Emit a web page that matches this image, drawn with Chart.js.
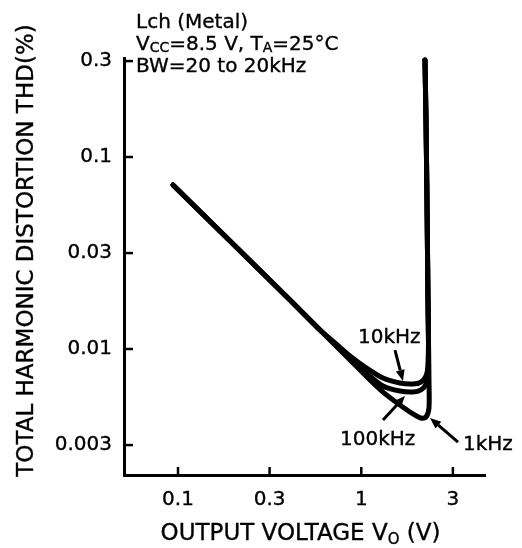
<!DOCTYPE html>
<html><head><meta charset="utf-8">
<script src="https://cdn.jsdelivr.net/npm/chart.js@4/dist/chart.umd.min.js"></script>
<style>html,body{margin:0;padding:0;background:#fff}canvas{display:block}</style>
</head><body>
<canvas id="c" width="522" height="548"></canvas>
<script>
// Axis ticks (datasheet spaces 0.1/0.3/1/3 evenly, i.e. half-decades)
const xTickValues = [0.1, 0.316, 1, 3.16];
const xTickLabels = ['0.1', '0.3', '1', '3'];
const yTickValues = [0.00316, 0.01, 0.0316, 0.1, 0.316];
const yTickLabels = ['0.003', '0.01', '0.03', '0.1', '0.3'];

// Shared low-level part of all curves (Vo in V, THD in %)
const commonVo  = [0.0939, 0.1922, 0.4083, 0.5953];
const commonThd = [0.0715, 0.0365, 0.0180, 0.01256];

// 10 kHz
const vo10k  = [0.7186, 0.8677, 1.0476, 1.3136, 1.6259, 1.9150, 2.1170, 2.2542, 2.3116, 2.3260, 2.3116, 2.2823, 2.2542, 2.2259];
const thd10k = [0.01075, 0.00919, 0.00806, 0.00706, 0.00665, 0.00657, 0.00673, 0.00724, 0.00825, 0.01114, 0.01799, 0.0597, 0.1559, 0.3200];
// 100 kHz
const vo100k  = [0.7186, 0.8677, 1.0476, 1.3136, 1.6259, 1.9150, 2.1170, 2.2542, 2.3116, 2.3260, 2.3116, 2.2823, 2.2542, 2.2259];
const thd100k = [0.01062, 0.00898, 0.00759, 0.00642, 0.00604, 0.00597, 0.00612, 0.00657, 0.00759, 0.01114, 0.01799, 0.0597, 0.1559, 0.3200];
// 1 kHz
const vo1k  = [0.7186, 0.8677, 1.0476, 1.3136, 1.6259, 1.9150, 2.1170, 2.2542, 2.3405, 2.3405, 2.3260, 2.3116, 2.2823, 2.2542, 2.2259];
const thd1k = [0.01049, 0.00877, 0.00732, 0.00597, 0.00511, 0.00459, 0.00437, 0.00442, 0.00493, 0.00690, 0.01114, 0.01799, 0.0597, 0.1559, 0.3200];

const seriesNames = ['10kHz', '100kHz', '1kHz'];

// Curve labels with arrows, in data units (Vo, THD)
const labelPos   = [[0.959, 0.01075], [0.7652, 0.003162], [3.587, 0.002979]];
const arrowFrom  = [[1.527, 0.00988], [1.3136, 0.004267], [3.37, 0.003278]];
const arrowTo    = [[1.688, 0.00681], [1.731, 0.00569], [2.371, 0.004371]];

function pts(vs, ts) { return vs.map((v, i) => ({ x: v, y: ts[i] })); }
function curve(vs, ts) { return pts(commonVo, commonThd).concat(pts(vs, ts)); }

const FONT = "'DejaVu Sans', sans-serif";
const STROKE = 0.35;

function txt(ctx, s, x, y) {
  ctx.fillText(s, x, y);
  ctx.lineWidth = STROKE; ctx.strokeText(s, x, y);
}

function drawRich(ctx, parts, x, y, align) {
  let w = 0;
  parts.forEach(p => { ctx.font = p.size + 'px ' + FONT; w += ctx.measureText(p.t).width; });
  let cx = align === 'center' ? x - w / 2 : x;
  ctx.textAlign = 'left'; ctx.textBaseline = 'alphabetic';
  parts.forEach(p => {
    ctx.font = p.size + 'px ' + FONT;
    txt(ctx, p.t, cx, y + (p.dy || 0));
    cx += ctx.measureText(p.t).width;
  });
}

const overlay = {
  id: 'overlay',
  beforeDraw(chart) {
    const ctx = chart.ctx;
    ctx.save(); ctx.fillStyle = '#fff'; ctx.fillRect(0, 0, chart.width, chart.height); ctx.restore();
  },
  afterDraw(chart) {
    const ctx = chart.ctx, xs = chart.scales.x, ys = chart.scales.y, ca = chart.chartArea;
    ctx.save();
    ctx.fillStyle = '#000'; ctx.strokeStyle = '#000';
    // inward tick marks
    ctx.lineWidth = 2.5;
    xTickValues.forEach(v => { const px = xs.getPixelForValue(v); ctx.beginPath(); ctx.moveTo(px, ca.bottom); ctx.lineTo(px, ca.bottom - 8); ctx.stroke(); });
    yTickValues.forEach(v => { const py = ys.getPixelForValue(v); ctx.beginPath(); ctx.moveTo(ca.left, py); ctx.lineTo(ca.left + 9, py); ctx.stroke(); });
    // arrows
    arrowFrom.forEach((f, i) => {
      const x0 = xs.getPixelForValue(f[0]), y0 = ys.getPixelForValue(f[1]);
      const x1 = xs.getPixelForValue(arrowTo[i][0]), y1 = ys.getPixelForValue(arrowTo[i][1]);
      const a = Math.atan2(y1 - y0, x1 - x0), L = 11, H = 4.5;
      const bx = x1 - L * Math.cos(a), by = y1 - L * Math.sin(a);
      ctx.lineWidth = 3;
      ctx.beginPath(); ctx.moveTo(x0, y0); ctx.lineTo(bx, by); ctx.stroke();
      ctx.beginPath(); ctx.moveTo(x1, y1);
      ctx.lineTo(bx + H * Math.sin(a), by - H * Math.cos(a));
      ctx.lineTo(bx - H * Math.sin(a), by + H * Math.cos(a));
      ctx.closePath(); ctx.fill();
    });
    // curve labels
    ctx.font = '20px ' + FONT; ctx.textAlign = 'left'; ctx.textBaseline = 'alphabetic';
    labelPos.forEach((p, i) => txt(ctx, seriesNames[i], xs.getPixelForValue(p[0]), ys.getPixelForValue(p[1])));
    // condition block
    const tx = ca.left + 12;
    drawRich(ctx, [{ t: 'Lch (Metal)', size: 20 }], tx, ca.top - 30);
    drawRich(ctx, [{ t: 'V', size: 20 }, { t: 'CC', size: 14, dy: 2 }, { t: '=8.5 V, T', size: 20 }, { t: 'A', size: 14, dy: 2 }, { t: '=25°C', size: 20 }], tx, ca.top - 8);
    drawRich(ctx, [{ t: 'BW=20 to 20kHz', size: 20 }], tx, ca.top + 14);
    // x axis title
    drawRich(ctx, [{ t: 'OUTPUT VOLTAGE V', size: 23 }, { t: 'O', size: 15, dy: 4 }, { t: ' (V)', size: 23 }], (ca.left + ca.right) / 2 - 4, 540, 'center');
    // y axis title
    ctx.translate(33, (ca.top + ca.bottom) / 2 - 16);
    ctx.rotate(-Math.PI / 2);
    ctx.font = '23px ' + FONT; ctx.textAlign = 'center'; ctx.textBaseline = 'alphabetic';
    txt(ctx, 'TOTAL HARMONIC DISTORTION THD(%)', 0, 0);
    ctx.restore();
  }
};

const mkDs = (label, data) => ({
  label, data, borderColor: '#000', borderWidth: 5, pointRadius: 0,
  tension: 0.25, fill: false, clip: 10, borderCapStyle: 'round', borderJoinStyle: 'round'
});

new Chart(document.getElementById('c'), {
  type: 'line',
  data: {
    datasets: [
      mkDs(seriesNames[0], curve(vo10k, thd10k)),
      mkDs(seriesNames[1], curve(vo100k, thd100k)),
      mkDs(seriesNames[2], curve(vo1k, thd1k))
    ]
  },
  options: {
    responsive: false, animation: false, devicePixelRatio: 1,
    layout: { padding: { top: 58, right: 37, left: 0, bottom: 0 } },
    plugins: { legend: { display: false }, tooltip: { enabled: false } },
    scales: {
      x: {
        type: 'logarithmic', min: 0.05074, max: 4.731,
        grid: { display: false, drawTicks: false },
        border: { display: true, color: '#000', width: 3 },
        afterBuildTicks: s => { s.ticks = xTickValues.map(v => ({ value: v })); },
        afterFit: s => { s.height = 73; },
        ticks: { color: '#000', padding: 13, maxRotation: 0, autoSkip: false,
          textStrokeColor: '#000', textStrokeWidth: STROKE,
          font: { family: FONT, size: 20 }, callback: (v, i) => xTickLabels[i] }
      },
      y: {
        type: 'logarithmic', min: 0.002207, max: 0.3279,
        grid: { display: false, drawTicks: false },
        border: { display: true, color: '#000', width: 3 },
        afterBuildTicks: s => { s.ticks = yTickValues.map(v => ({ value: v })); },
        afterFit: s => { s.width = 124; },
        ticks: { color: '#000', padding: 12, autoSkip: false,
          textStrokeColor: '#000', textStrokeWidth: STROKE,
          font: { family: FONT, size: 20 }, callback: (v, i) => yTickLabels[i] }
      }
    }
  },
  plugins: [overlay]
});
</script>
</body></html>
